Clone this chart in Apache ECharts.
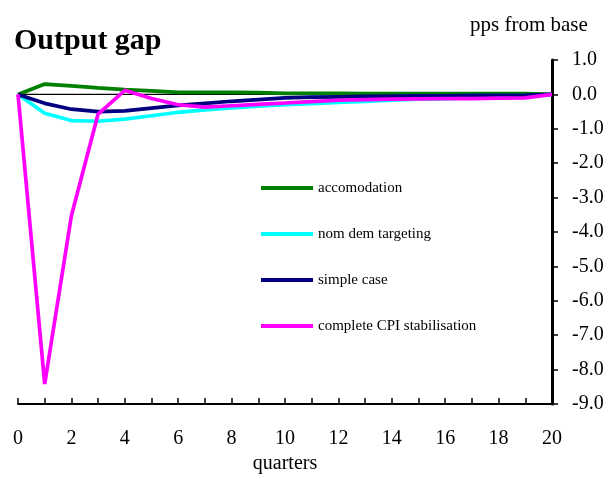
<!DOCTYPE html>
<html>
<head>
<meta charset="utf-8">
<script src="https://cdn.jsdelivr.net/npm/echarts@6/dist/echarts.min.js"></script>
<style>
  html, body { margin: 0; padding: 0; background: #fff; }
  #chart { width: 611px; height: 479px; }
</style>
</head>
<body>
<div id="chart"></div>
<script>
// quarters 0..20
var quarters = [0, 1, 2, 3, 4, 5, 6, 7, 8, 9, 10, 11, 12, 13, 14, 15, 16, 17, 18, 19, 20];

var accomodation = [0, 0.30, 0.25, 0.19, 0.14, 0.10, 0.06, 0.06, 0.06, 0.05, 0.03,
                    0.03, 0.03, 0.02, 0.02, 0.02, 0.02, 0.02, 0.02, 0.02, 0.0];
var nomDemTargeting = [0, -0.55, -0.76, -0.78, -0.72, -0.62, -0.52, -0.45, -0.39, -0.34, -0.30,
                       -0.27, -0.23, -0.20, -0.17, -0.14, -0.12, -0.10, -0.08, -0.06, 0.0];
var simpleCase = [0, -0.26, -0.43, -0.50, -0.48, -0.40, -0.32, -0.26, -0.20, -0.15, -0.10,
                  -0.08, -0.07, -0.06, -0.05, -0.04, -0.04, -0.03, -0.03, -0.02, 0.0];
var completeCPI = [0, -8.42, -3.53, -0.57, 0.12, -0.12, -0.30, -0.37, -0.33, -0.29, -0.25,
                   -0.21, -0.17, -0.15, -0.14, -0.13, -0.12, -0.12, -0.11, -0.10, 0.0];

var seriesNames = ['accomodation', 'nom dem targeting', 'simple case', 'complete CPI stabilisation'];
var seriesColors = ['#008000', '#00FFFF', '#000080', '#FF00FF'];
var seriesValues = [accomodation, nomDemTargeting, simpleCase, completeCPI];

var serif = '"Liberation Serif", "Times New Roman", serif';

function pairs(vals) {
    return quarters.map(function (q, i) { return [q, vals[i]]; });
}

var chart = echarts.init(document.getElementById('chart'));

var series = [{
    name: 'zero',
    type: 'line',
    data: [[0, 0], [20, 0]],
    symbol: 'none',
    silent: true,
    lineStyle: { color: '#000', width: 1.3 },
    z: 1
}];
seriesNames.forEach(function (name, i) {
    series.push({
        name: name,
        type: 'line',
        data: pairs(seriesValues[i]),
        symbol: 'none',
        color: seriesColors[i],
        lineStyle: { color: seriesColors[i], width: 3.7 },
        z: 2 + i
    });
});

var option = {
    animation: false,
    backgroundColor: '#fff',
    graphic: [{
        type: 'text',
        left: 14,
        top: 26,
        style: { text: 'Output gap', font: 'bold 30px ' + serif, fill: '#000' }
    }, {
        type: 'text',
        left: 470,
        top: 15,
        style: { text: 'pps from base', font: '21px ' + serif, fill: '#000' }
    }],
    legend: {
        data: seriesNames,
        orient: 'vertical',
        left: 256,
        top: 175,
        itemWidth: 52,
        itemHeight: 4,
        itemGap: 30,
        icon: 'rect',
        textStyle: { fontFamily: serif, fontSize: 15, color: '#000', lineHeight: 16 }
    },
    grid: { left: 18, right: 59, top: 60, bottom: 65, containLabel: false },
    xAxis: {
        type: 'value',
        min: 0,
        max: 20,
        interval: 1,
        name: 'quarters',
        nameLocation: 'middle',
        nameGap: 50,
        nameTextStyle: { fontFamily: serif, fontSize: 20, color: '#000' },
        axisLine: { onZero: false, lineStyle: { color: '#000', width: 2 } },
        axisTick: { inside: true, length: 6, lineStyle: { color: '#000', width: 1.5 } },
        axisLabel: {
            margin: 25,
            fontFamily: serif,
            fontSize: 20,
            color: '#000',
            formatter: function (v) { return v % 2 === 0 ? String(v) : ''; }
        },
        splitLine: { show: false }
    },
    yAxis: {
        type: 'value',
        position: 'right',
        min: -9,
        max: 1,
        interval: 1,
        axisLine: { show: true, onZero: false, lineStyle: { color: '#000', width: 3 } },
        axisTick: { show: true, length: 6, lineStyle: { color: '#000', width: 1.5 } },
        axisLabel: {
            margin: 20,
            fontFamily: serif,
            fontSize: 20,
            color: '#000',
            formatter: function (v) { return v.toFixed(1); }
        },
        splitLine: { show: false }
    },
    series: series
};

chart.setOption(option);
</script>
</body>
</html>
